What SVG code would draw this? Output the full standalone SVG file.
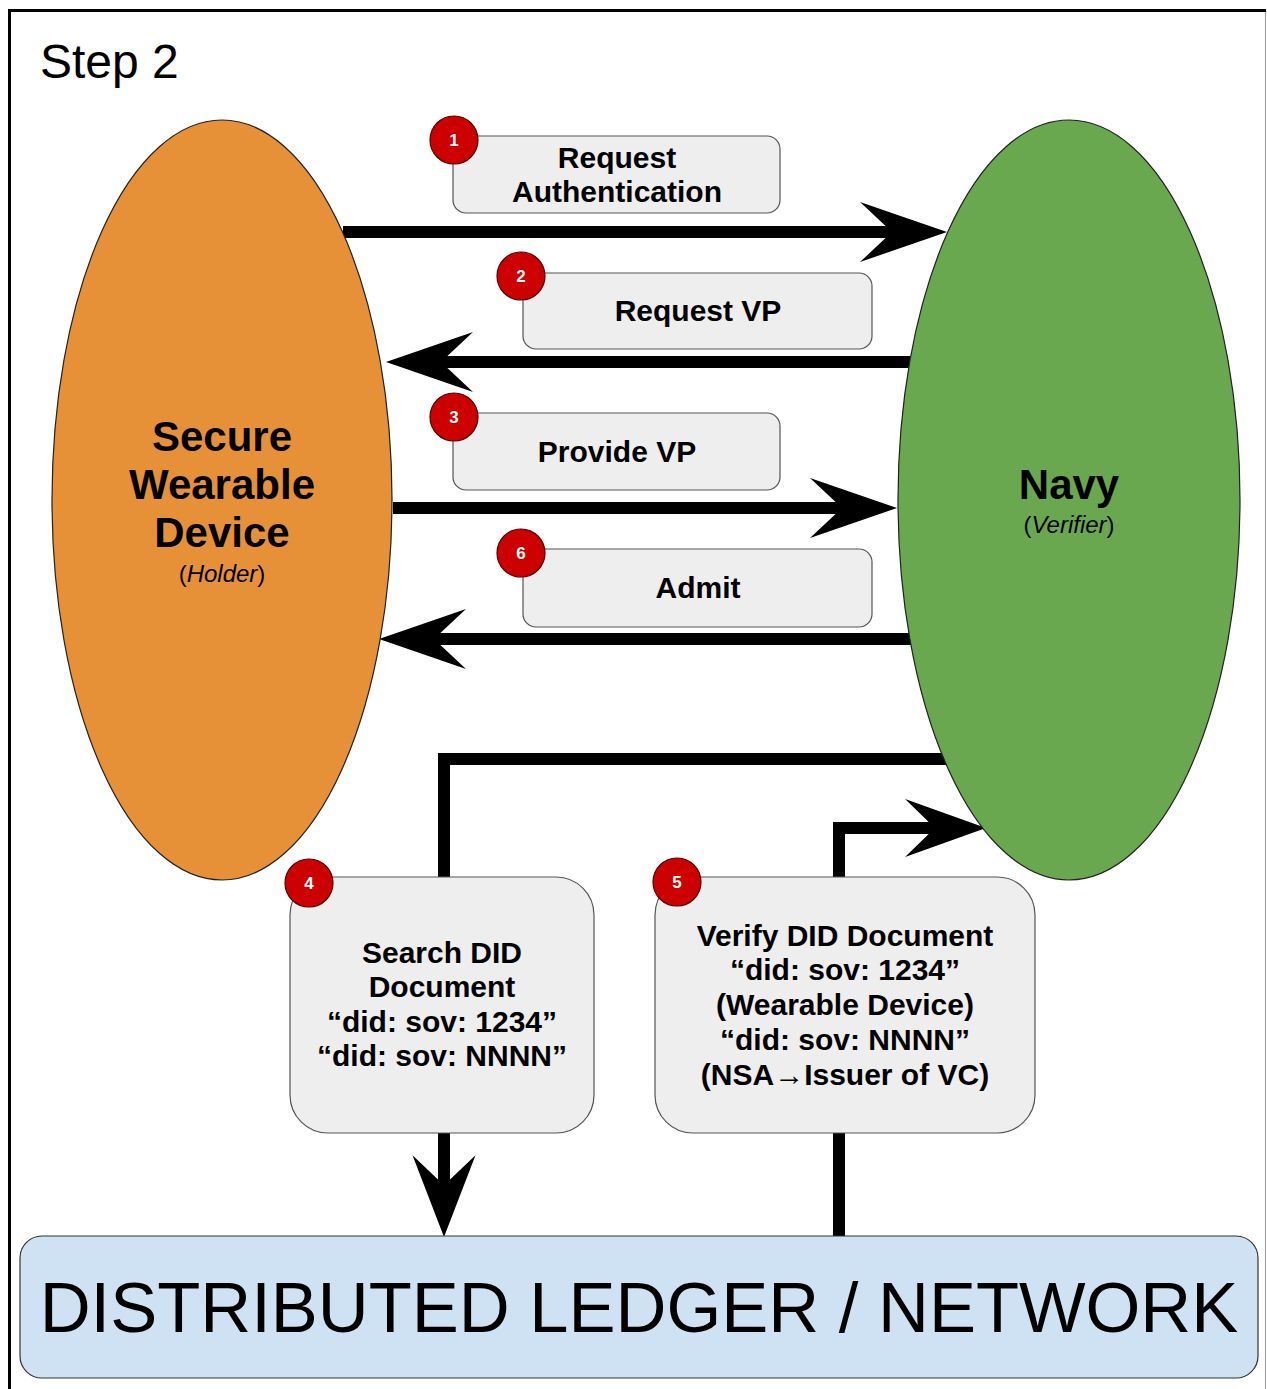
<svg xmlns="http://www.w3.org/2000/svg" xmlns:xlink="http://www.w3.org/1999/xlink" width="1267" height="1389" viewBox="0 0 1267 1389">
<style>
text{font-family:"Liberation Sans",Arial,sans-serif;fill:#000}
.b{font-weight:bold}
.box{fill:#eeeeee;stroke:#555;stroke-width:1.2}
.badge{fill:#cc0000;stroke:#5a0000;stroke-width:1.2}
.bn{font-weight:bold;font-size:17px;fill:#fff;text-anchor:middle}
.lbl{font-weight:bold;font-size:30px;text-anchor:middle}
.wire{fill:none;stroke:#000;stroke-width:12}
.head{fill:#000}
</style>
<defs>
<path id="ah" d="M0,0 L-87,-30 L-55,0 L-87,30 Z"/>
</defs>
<rect width="1267" height="1389" fill="#fff"/>
<path d="M9.5,1389 V10.5 H1266" fill="none" stroke="#000" stroke-width="3"/>
<path d="M1265.5,12 V1389" fill="none" stroke="#999" stroke-width="1"/>
<text x="40" y="78" font-size="48">Step 2</text>

<g id="connectors">
<line class="wire" x1="343" y1="232" x2="900" y2="232"/>
<use xlink:href="#ah" class="head" transform="translate(947,232)"/>
<line class="wire" x1="910" y1="362" x2="432" y2="362"/>
<use xlink:href="#ah" class="head" transform="translate(386,362) rotate(180)"/>
<line class="wire" x1="393" y1="508" x2="850" y2="508"/>
<use xlink:href="#ah" class="head" transform="translate(897,508)"/>
<line class="wire" x1="913" y1="639" x2="425" y2="639"/>
<use xlink:href="#ah" class="head" transform="translate(379,639) rotate(180)"/>
<polyline class="wire" points="947,759 444,759 444,877"/>
<line class="wire" x1="444" y1="1133" x2="444" y2="1190"/>
<use xlink:href="#ah" class="head" transform="translate(444,1237) rotate(90) scale(0.94,1.05)"/>
<polyline class="wire" points="839,877 839,828 940,828"/>
<use xlink:href="#ah" class="head" transform="translate(986,828) scale(0.93,0.97)"/>
<line class="wire" x1="839" y1="1133" x2="839" y2="1237"/>
</g>

<g id="holder">
<ellipse cx="222" cy="500" rx="170" ry="380" fill="#e69138" stroke="#222" stroke-width="1.2"/>
<text class="b" x="222" y="451" font-size="42" text-anchor="middle">Secure</text>
<text class="b" x="222" y="499" font-size="42" text-anchor="middle">Wearable</text>
<text class="b" x="222" y="547" font-size="42" text-anchor="middle">Device</text>
<text x="222" y="582" font-size="24" text-anchor="middle">(<tspan font-style="italic">Holder</tspan>)</text>
</g>

<g id="verifier">
<ellipse cx="1069" cy="500" rx="171" ry="380" fill="#6aa84f" stroke="#222" stroke-width="1.2"/>
<text class="b" x="1069" y="499" font-size="42" text-anchor="middle">Navy</text>
<text x="1069" y="533" font-size="24" text-anchor="middle">(<tspan font-style="italic">Verifier</tspan>)</text>
</g>

<g id="step1">
<rect class="box" x="453" y="136" width="327" height="77" rx="13"/>
<text class="lbl" x="617" y="168">Request</text>
<text class="lbl" x="617" y="202">Authentication</text>
<circle class="badge" cx="454" cy="140" r="24"/>
<text class="bn" x="454" y="146">1</text>
</g>

<g id="step2">
<rect class="box" x="523" y="273" width="349" height="76" rx="13"/>
<text class="lbl" x="698" y="321">Request VP</text>
<circle class="badge" cx="521" cy="276" r="24"/>
<text class="bn" x="521" y="282">2</text>
</g>

<g id="step3">
<rect class="box" x="453" y="413" width="327" height="77" rx="13"/>
<text class="lbl" x="617" y="462">Provide VP</text>
<circle class="badge" cx="454" cy="417" r="24"/>
<text class="bn" x="454" y="423">3</text>
</g>

<g id="step6">
<rect class="box" x="523" y="549" width="349" height="78" rx="13"/>
<text class="lbl" x="698" y="598">Admit</text>
<circle class="badge" cx="521" cy="553" r="24"/>
<text class="bn" x="521" y="559">6</text>
</g>

<g id="step4">
<rect class="box" x="290" y="877" width="304" height="256" rx="38"/>
<text class="lbl" x="442" y="963">Search DID</text>
<text class="lbl" x="442" y="997">Document</text>
<text class="lbl" x="442" y="1032">“did: sov: 1234”</text>
<text class="lbl" x="442" y="1066">“did: sov: NNNN”</text>
<circle class="badge" cx="309" cy="883" r="24"/>
<text class="bn" x="309" y="889">4</text>
</g>

<g id="step5">
<rect class="box" x="655" y="877" width="380" height="256" rx="38"/>
<text class="lbl" x="845" y="946">Verify DID Document</text>
<text class="lbl" x="845" y="980">“did: sov: 1234”</text>
<text class="lbl" x="845" y="1015">(Wearable Device)</text>
<text class="lbl" x="845" y="1050">“did: sov: NNNN”</text>
<text class="lbl" x="845" y="1085">(NSA→Issuer of VC)</text>
<circle class="badge" cx="677" cy="882" r="24"/>
<text class="bn" x="677" y="888">5</text>
</g>

<g id="ledger">
<rect x="20" y="1236" width="1238" height="142" rx="22" fill="#cfe2f3" stroke="#333" stroke-width="1.2"/>
<text x="639" y="1332" font-size="70.5" text-anchor="middle">DISTRIBUTED LEDGER / NETWORK</text>
</g>
</svg>
